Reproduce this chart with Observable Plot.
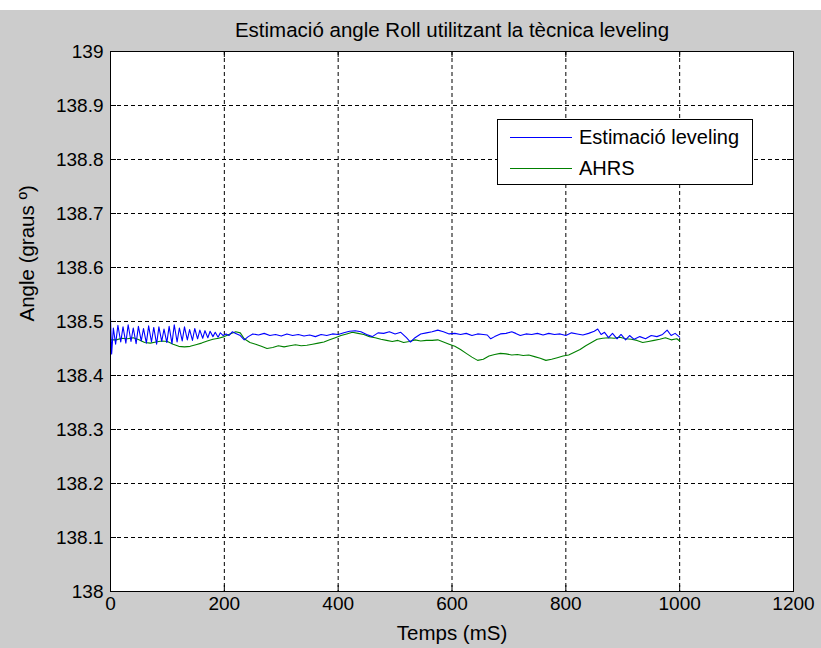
<!DOCTYPE html>
<html>
<head>
<meta charset="utf-8">
<script src="https://cdn.jsdelivr.net/npm/d3@7"></script>
<script src="https://cdn.jsdelivr.net/npm/@observablehq/plot@0.6"></script>
<style>
  html, body { margin: 0; padding: 0; background: #ffffff; }
  #wrap { position: relative; width: 821px; height: 648px; padding-top: 10px; box-sizing: border-box; font-family: "Liberation Sans", Arial, sans-serif; }
  #wrap svg { display: block; background: #cccccc; }
  #legend { position: absolute; left: 497px; top: 119px; width: 256px; height: 66px; box-sizing: border-box; background: #ffffff; border: 1px solid #000; }
  .lg-row { position: absolute; left: 0; height: 24px; display: flex; align-items: center; }
  .lg-line { width: 62px; height: 0; border-top: 1px solid; margin-left: 12px; margin-right: 7px; }
  .lg-text { font-size: 20px; color: #000; line-height: 24px; white-space: nowrap; }
</style>
</head>
<body>
<div id="wrap"><div id="legend"></div></div>
<script>
const title = "Estimació angle Roll utilitzant la tècnica leveling";
const xLabel = "Temps (mS)";
const yLabel = "Angle (graus º)";
const seriesNames = ["Estimació leveling", "AHRS"];
const seriesColors = ["#0000ff", "#008000"];

const xTicks = [0, 200, 400, 600, 800, 1000, 1200];
const yTicks = [138, 138.1, 138.2, 138.3, 138.4, 138.5, 138.6, 138.7, 138.8, 138.9, 139];

// Estimació leveling (blue)
const levelingX = [0,2,5,9,13,18,22,27,31,36,40,45,49,54,58,63,67,72,76,81,85,90,94,99,103,108,112,117,121,126,130,135,139,144,148,153,157,162,166,171,175,180,184,189,193,198,
  203,208,214,220,228,235,242,250,260,270,280,290,300,310,320,330,340,350,360,370,380,390,400,410,420,430,440,450,460,470,480,490,500,510,520,527,535,545,555,565,575,585,595,605,615,625,635,645,655,662,668,675,685,695,705,712,720,730,740,750,760,770,780,790,800,810,820,830,840,850,856,862,868,875,882,890,897,905,912,920,930,940,950,960,970,978,985,992,1000];
const levelingY = [138.505,138.440,138.488,138.458,138.493,138.462,138.490,138.460,138.494,138.463,138.488,138.459,138.491,138.464,138.487,138.460,138.492,138.462,138.489,138.458,138.490,138.463,138.486,138.461,138.491,138.459,138.494,138.462,138.488,138.464,138.490,138.466,138.485,138.465,138.487,138.468,138.484,138.469,138.483,138.470,138.482,138.472,138.480,138.471,138.479,138.474,
  138.477,138.474,138.481,138.478,138.474,138.466,138.472,138.477,138.475,138.478,138.474,138.476,138.473,138.477,138.474,138.476,138.473,138.475,138.472,138.476,138.474,138.477,138.476,138.479,138.482,138.483,138.481,138.476,138.472,138.479,138.478,138.481,138.477,138.480,138.470,138.462,138.470,138.477,138.479,138.481,138.484,138.481,138.477,138.478,138.476,138.478,138.474,138.477,138.476,138.475,138.468,138.472,138.477,138.478,138.481,138.478,138.474,138.477,138.476,138.478,138.475,138.478,138.476,138.477,138.474,138.479,138.477,138.475,138.478,138.482,138.486,138.476,138.480,138.470,138.478,138.468,138.476,138.466,138.474,138.467,138.472,138.468,138.474,138.472,138.476,138.484,138.474,138.478,138.471];

// AHRS (green)
const ahrsX = [0,10,20,30,40,50,60,70,80,90,100,110,120,130,140,150,160,170,180,190,200,210,220,228,235,245,255,265,275,285,295,305,315,325,335,345,355,365,375,385,395,405,415,425,435,445,455,465,475,485,495,505,515,525,535,545,555,565,575,585,595,605,615,625,635,645,655,665,675,685,695,705,715,725,735,745,755,765,775,785,795,805,815,825,835,845,855,865,875,885,895,905,915,925,935,945,955,965,975,985,995,1000];
const ahrsY = [138.466,138.466,138.469,138.468,138.470,138.466,138.461,138.460,138.462,138.464,138.463,138.458,138.454,138.453,138.454,138.457,138.460,138.464,138.467,138.469,138.472,138.477,138.481,138.479,138.468,138.461,138.458,138.454,138.450,138.452,138.455,138.453,138.455,138.457,138.455,138.456,138.458,138.460,138.462,138.466,138.470,138.474,138.477,138.480,138.478,138.476,138.472,138.470,138.467,138.465,138.463,138.465,138.461,138.463,138.466,138.464,138.465,138.465,138.466,138.462,138.458,138.454,138.448,138.441,138.434,138.428,138.430,138.436,138.439,138.441,138.440,138.438,138.439,138.437,138.438,138.435,138.432,138.428,138.430,138.433,138.436,138.438,138.443,138.448,138.455,138.461,138.467,138.469,138.470,138.469,138.471,138.468,138.467,138.465,138.461,138.463,138.465,138.467,138.470,138.466,138.468,138.464];

const leveling = levelingX.map((x, i) => ({x, y: levelingY[i]}));
const ahrs = ahrsX.map((x, i) => ({x, y: ahrsY[i]}));

const W = 821, H = 638, mL = 110, mR = 28, mT = 41, mB = 57;
const innerW = W - mL - mR, innerH = H - mT - mB;
const tickLen = 6;
const fmt = d => String(+d.toFixed(1));

const chart = Plot.plot({
  width: W, height: H,
  marginLeft: mL, marginRight: mR, marginTop: mT, marginBottom: mB,
  style: {fontFamily: '"Liberation Sans", Arial, sans-serif', fontSize: "19px", color: "#000", background: "#cccccc"},
  x: {domain: [0, 1200], ticks: xTicks, tickFormat: fmt},
  y: {domain: [138, 139], ticks: yTicks, tickFormat: fmt},
  marks: [
    Plot.frame({fill: "white", stroke: null}),
    Plot.gridX(xTicks.slice(1, -1), {stroke: "#000", strokeOpacity: 1, strokeDasharray: "4,3"}),
    Plot.gridY(yTicks.slice(1, -1), {stroke: "#000", strokeOpacity: 1, strokeDasharray: "4,3"}),
    Plot.line(ahrs, {x: "x", y: "y", stroke: seriesColors[1], strokeWidth: 1.1}),
    Plot.line(leveling, {x: "x", y: "y", stroke: seriesColors[0], strokeWidth: 1.1}),
    Plot.tickY(yTicks, {y: d => d, stroke: "#000", insetRight: innerW - tickLen}),
    Plot.tickY(yTicks, {y: d => d, stroke: "#000", insetLeft: innerW - tickLen}),
    Plot.tickX(xTicks, {x: d => d, stroke: "#000", insetTop: innerH - tickLen}),
    Plot.tickX(xTicks, {x: d => d, stroke: "#000", insetBottom: innerH - tickLen}),
    Plot.axisX({ticks: xTicks, tickFormat: fmt, tickSize: 0, tickPadding: 5, label: null, fontSize: 19}),
    Plot.axisY({ticks: yTicks, tickFormat: fmt, tickSize: 0, tickPadding: 7, label: null, fontSize: 19}),
    Plot.frame({stroke: "#000", strokeWidth: 1}),
    Plot.text([title], {frameAnchor: "top", lineAnchor: "middle", dy: -21, fontSize: 20.5, fill: "#000"}),
    Plot.text([xLabel], {frameAnchor: "bottom", lineAnchor: "middle", dy: 42, fontSize: 20.5, fill: "#000"}),
    Plot.text([yLabel], {frameAnchor: "left", lineAnchor: "middle", dx: -83, rotate: -90, fontSize: 20.5, fill: "#000"})
  ]
});
document.getElementById("wrap").insertBefore(chart, document.getElementById("legend"));

const legend = document.getElementById("legend");
seriesNames.forEach((name, i) => {
  const row = document.createElement("div");
  row.className = "lg-row";
  row.style.top = (i === 0 ? 5 : 36) + "px";
  const ln = document.createElement("div");
  ln.className = "lg-line";
  ln.style.borderTopColor = seriesColors[i];
  const tx = document.createElement("span");
  tx.className = "lg-text";
  tx.textContent = name;
  row.appendChild(ln); row.appendChild(tx);
  legend.appendChild(row);
});
</script>
</body>
</html>
